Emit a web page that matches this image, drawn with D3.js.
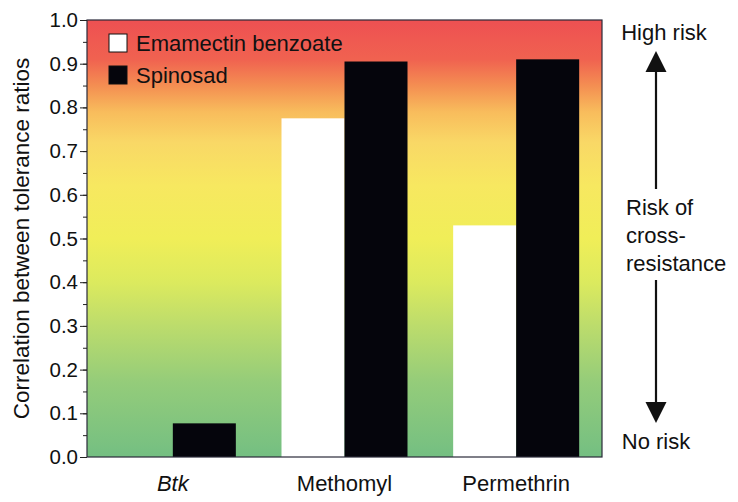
<!DOCTYPE html>
<html lang="en">
  <head>
    <meta charset="UTF-8" />
    <script src="https://d3js.org/d3.v7.min.js"></script>
    <title>Cross-resistance</title>
    <style>
      body { margin: 0; background: #fff; }
      svg { display: block; font-family: 'Liberation Sans', Arial, sans-serif; }
      .axis path { display: none; }
      .axis line { stroke: #222; }
      .axis text { font-size: 20.5px; fill: #111; }
    </style>
  </head>
  <body>
    <script>
      // data
      const categories = ['Btk', 'Methomyl', 'Permethrin']
      const emamectin = [null, 0.775, 0.53]
      const spinosad = [0.077, 0.905, 0.91]
      const seriesNames = ['Emamectin benzoate', 'Spinosad']
      const yTicks = [0, 0.1, 0.2, 0.3, 0.4, 0.5, 0.6, 0.7, 0.8, 0.9, 1.0]

      const width = 738
      const height = 502
      const margin = { top: 20, right: 136, bottom: 45, left: 87 }
      const innerW = width - margin.left - margin.right
      const innerH = height - margin.top - margin.bottom

      const svg = d3.select('body')
        .append('svg')
        .attr('width', width)
        .attr('height', height)

      const g = svg.append('g')
        .attr('transform', `translate(${margin.left},${margin.top})`)

      const x = d3.scaleBand()
        .domain(categories)
        .range([0, innerW])
        .paddingInner(0.266)
        .paddingOuter(0.133)

      const xSub = d3.scaleBand()
        .domain(seriesNames)
        .range([0, x.bandwidth()])

      const y = d3.scaleLinear()
        .domain([0, 1])
        .range([innerH, 0])

      // background gradient (risk scale)
      const grad = svg.append('defs').append('linearGradient')
        .attr('id', 'risk')
        .attr('x1', 0).attr('y1', 0).attr('x2', 0).attr('y2', 1)
      const stops = [
        [0, '#ee5052'], [0.09, '#f06250'], [0.15, '#f48e52'], [0.21, '#f8bc5c'],
        [0.28, '#f9d866'], [0.38, '#f7e860'], [0.5, '#f0ee58'], [0.6, '#dcea5e'],
        [0.7, '#bcdc6c'], [0.83, '#94cc7a'], [1, '#74bf82']
      ]
      grad.selectAll('stop')
        .data(stops)
        .join('stop')
        .attr('offset', d => d[0])
        .attr('stop-color', d => d[1])

      g.append('rect')
        .attr('width', innerW)
        .attr('height', innerH)
        .attr('fill', 'url(#risk)')

      // bars
      const rows = categories.map((c, i) => ({ cat: c, vals: [emamectin[i], spinosad[i]] }))
      const colors = ['#ffffff', '#05050c']
      g.selectAll('g.grp')
        .data(rows)
        .join('g')
        .attr('class', 'grp')
        .attr('transform', d => `translate(${x(d.cat)},0)`)
        .selectAll('rect')
        .data(d => d.vals.map((v, j) => ({ v, j })).filter(e => e.v != null))
        .join('rect')
        .attr('x', e => xSub(seriesNames[e.j]))
        .attr('width', xSub.bandwidth())
        .attr('y', e => y(e.v))
        .attr('height', e => innerH - y(e.v))
        .attr('fill', e => colors[e.j])

      // frame
      g.append('rect')
        .attr('width', innerW)
        .attr('height', innerH)
        .attr('fill', 'none')
        .attr('stroke', '#2a2a3a')
        .attr('stroke-width', 1.2)

      // y axis with minor ticks
      g.append('g')
        .attr('class', 'axis')
        .call(d3.axisLeft(y).tickValues(d3.range(0, 1.001, 0.05)).tickSize(4).tickFormat(''))
      g.append('g')
        .attr('class', 'axis')
        .call(d3.axisLeft(y).tickValues(yTicks).tickSize(7).tickPadding(2).tickFormat(d3.format('.1f')))

      // category labels
      g.selectAll('text.cat')
        .data(categories)
        .join('text')
        .attr('class', 'cat')
        .attr('x', d => x(d) + x.bandwidth() / 2)
        .attr('y', innerH + 34)
        .attr('text-anchor', 'middle')
        .attr('font-size', 22)
        .attr('font-style', d => d === 'Btk' ? 'italic' : 'normal')
        .attr('fill', '#111')
        .text(d => d)

      // y title
      svg.append('text')
        .attr('transform', `translate(29,${margin.top + innerH / 2}) rotate(-90)`)
        .attr('text-anchor', 'middle')
        .attr('font-size', 22.5)
        .attr('fill', '#111')
        .text('Correlation between tolerance ratios')

      // legend
      const leg = g.append('g').attr('transform', 'translate(22,14)')
      seriesNames.forEach((s, i) => {
        leg.append('rect')
          .attr('x', 0)
          .attr('y', i * 32)
          .attr('width', 18)
          .attr('height', 18)
          .attr('fill', colors[i])
          .attr('stroke', '#111')
          .attr('stroke-width', 1)
        leg.append('text')
          .attr('x', 27)
          .attr('y', i * 32 + 17)
          .attr('font-size', 22)
          .attr('fill', '#111')
          .text(s)
      })

      // risk annotation on the right
      const ax = 656
      const ann = svg.append('g').attr('fill', '#111').attr('font-size', 22)
      ann.append('text').attr('x', 664).attr('y', 40).attr('text-anchor', 'middle').text('High risk')
      ann.append('text').attr('x', 656).attr('y', 449).attr('text-anchor', 'middle').text('No risk')
      ;['Risk of', 'cross-', 'resistance'].forEach((t, i) => {
        ann.append('text').attr('x', 626).attr('y', 215 + i * 28).text(t)
      })
      svg.append('line').attr('x1', ax).attr('x2', ax).attr('y1', 70).attr('y2', 189)
        .attr('stroke', '#111').attr('stroke-width', 2.2)
      svg.append('line').attr('x1', ax).attr('x2', ax).attr('y1', 280).attr('y2', 405)
        .attr('stroke', '#111').attr('stroke-width', 2.2)
      svg.append('path').attr('d', `M${ax},51 L${ax - 10.5},72 L${ax + 10.5},72 Z`).attr('fill', '#111')
      svg.append('path').attr('d', `M${ax},423 L${ax - 10.5},402 L${ax + 10.5},402 Z`).attr('fill', '#111')
    </script>
  </body>
</html>
